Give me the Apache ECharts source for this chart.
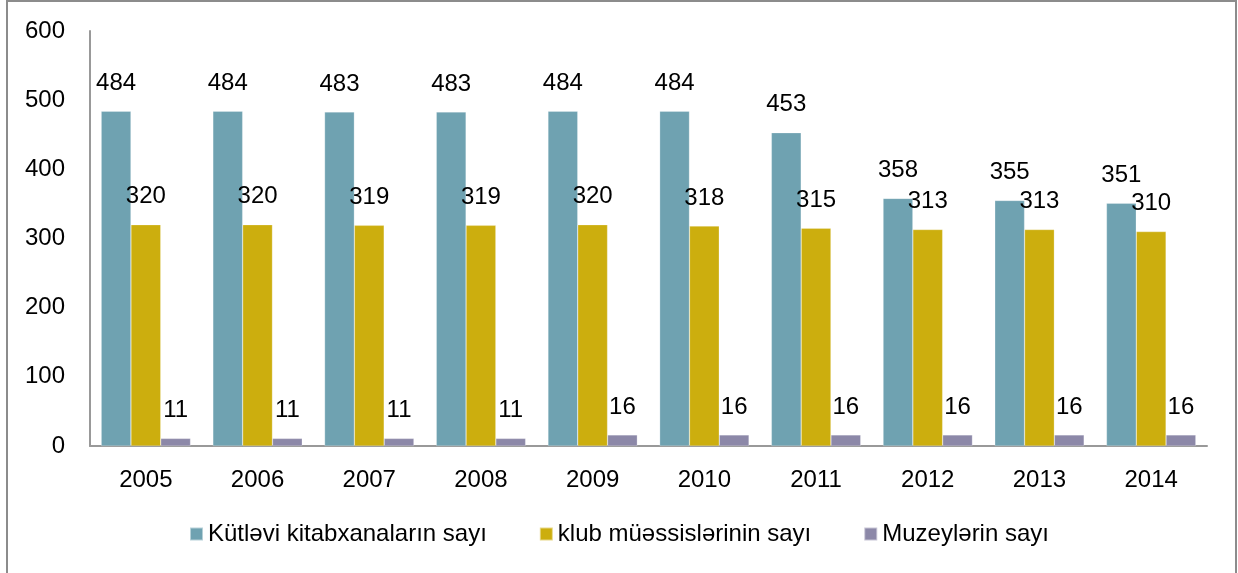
<!DOCTYPE html>
<html>
<head>
<meta charset="utf-8">
<script src="https://cdn.jsdelivr.net/npm/echarts@6/dist/echarts.min.js"></script>
<style>
html, body { margin:0; padding:0; background:#fff; }
#chart { width:1238px; height:573px; }
</style>
</head>
<body>
<div id="chart"></div>
<script>
var years = ['2005','2006','2007','2008','2009','2010','2011','2012','2013','2014'];
var kitabxana = [484, 484, 483, 483, 484, 484, 453, 358, 355, 351];
var klub = [320, 320, 319, 319, 320, 318, 315, 313, 313, 310];
var muzey = [11, 11, 11, 11, 16, 16, 16, 16, 16, 16];
var seriesNames = ['Kütləvi kitabxanaların sayı', 'klub müəssislərinin sayı', 'Muzeylərin sayı'];
var colors = ['#6FA2B1', '#CCAE0E', '#8C88A8'];

var chart = echarts.init(document.getElementById('chart'));

// ortaq etiket stili
var label = {
  show: true,
  position: 'top',
  distance: 16,
  color: '#000',
  fontFamily: 'Liberation Sans',
  fontSize: 24
};

function bar(name, data, color) {
  return {
    name: name,
    type: 'bar',
    data: data,
    barGap: 0,
    barCategoryGap: '20%',
    itemStyle: { color: color, borderColor: 'rgba(255,255,255,0.5)', borderWidth: 0.5 },
    label: label
  };
}

chart.setOption({
  animation: false,
  backgroundColor: '#fff',
  graphic: [{
    type: 'rect',
    shape: { x: 7, y: 1, width: 1229, height: 600 },
    style: { fill: 'none', stroke: '#8c8c8c', lineWidth: 2 },
    silent: true
  }],
  grid: { left: 90, right: 31, top: 31, bottom: 127 },
  legend: {
    bottom: 22,
    left: 'center',
    itemWidth: 13,
    itemHeight: 13,
    itemGap: 52,
    icon: 'rect',
    textStyle: { fontFamily: 'Liberation Sans', fontSize: 24, color: '#000' },
    data: seriesNames
  },
  xAxis: {
    type: 'category',
    data: years,
    axisLine: { lineStyle: { color: '#999', width: 2 } },
    axisTick: { show: false },
    axisLabel: { color: '#000', fontFamily: 'Liberation Sans', fontSize: 24, margin: 22 }
  },
  yAxis: {
    type: 'value',
    min: 0,
    max: 600,
    interval: 100,
    splitLine: { show: false },
    axisLine: { show: true, lineStyle: { color: '#999', width: 2 } },
    axisTick: { show: false },
    axisLabel: { color: '#000', fontFamily: 'Liberation Sans', fontSize: 24, margin: 25 }
  },
  series: [
    bar(seriesNames[0], kitabxana, colors[0]),
    bar(seriesNames[1], klub, colors[1]),
    bar(seriesNames[2], muzey, colors[2])
  ]
});
</script>
</body>
</html>
